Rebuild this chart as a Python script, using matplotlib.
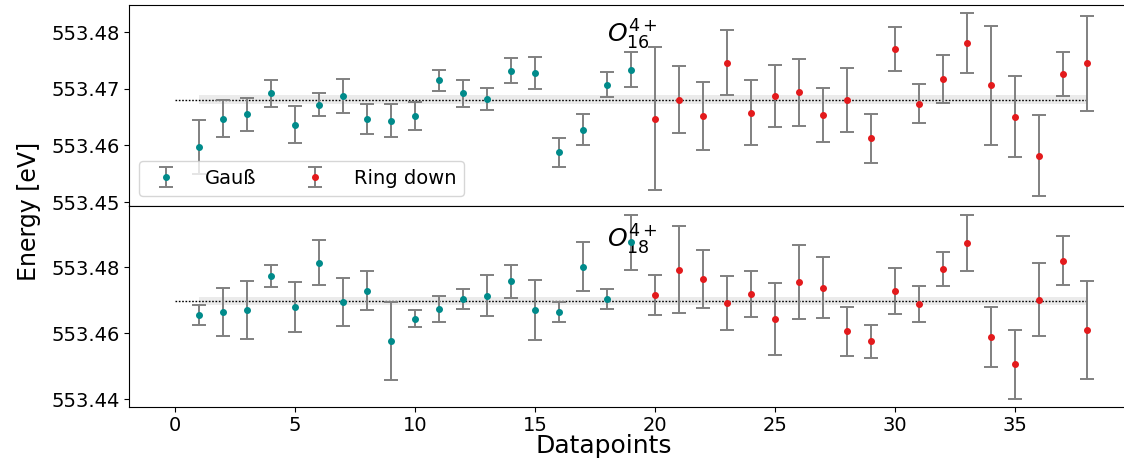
import matplotlib
matplotlib.use("Agg")
import matplotlib.pyplot as plt
import numpy as np

# Datapoint indices: 1-19 fitted with a Gaussian, 20-38 with the ring-down model
idx_gauss = list(range(1, 20))
idx_ring = list(range(20, 39))

# O 16 4+ line energies [eV] and uncertainties
o16_gauss = [553.4597, 553.4647, 553.4655, 553.4692, 553.4637, 553.4672, 553.4687,
             553.4647, 553.4644, 553.4652, 553.4715, 553.4692, 553.4682, 553.4732,
             553.4728, 553.4588, 553.4628, 553.4707, 553.4734]
o16_gauss_err = [0.00482, 0.00326, 0.00295, 0.00242, 0.00318, 0.00203, 0.00300,
                 0.00261, 0.00286, 0.00242, 0.00180, 0.00238, 0.00200, 0.00220,
                 0.00279, 0.00256, 0.00277, 0.00220, 0.00309]
o16_ring = [553.4647, 553.4681, 553.4652, 553.4746, 553.4658, 553.4687, 553.4694,
            553.4654, 553.4681, 553.4613, 553.4770, 553.4674, 553.4717, 553.4781,
            553.4706, 553.4651, 553.4582, 553.4726, 553.4745]
o16_ring_err = [0.01261, 0.00596, 0.00596, 0.00577, 0.00577, 0.00550, 0.00594,
                0.00480, 0.00564, 0.00432, 0.00388, 0.00344, 0.00427, 0.00524,
                0.01053, 0.00718, 0.00714, 0.00385, 0.00838]
o16_mean = 553.4681
o16_mean_err = 0.00074

# O 18 4+ line energies [eV] and uncertainties
o18_gauss = [553.4655, 553.4663, 553.4670, 553.4773, 553.4679, 553.4814, 553.4694,
             553.4729, 553.4577, 553.4644, 553.4674, 553.4703, 553.4713, 553.4757,
             553.4671, 553.4664, 553.4802, 553.4703, 553.4876]
o18_gauss_err = [0.00289, 0.00730, 0.00891, 0.00340, 0.00760, 0.00693, 0.00724,
                 0.00602, 0.01186, 0.00249, 0.00395, 0.00298, 0.00623, 0.00492,
                 0.00912, 0.00313, 0.00730, 0.00295, 0.00836]
o18_ring = [553.4715, 553.4792, 553.4764, 553.4691, 553.4719, 553.4643, 553.4755,
            553.4738, 553.4605, 553.4575, 553.4728, 553.4689, 553.4795, 553.4874,
            553.4589, 553.4506, 553.4702, 553.4820, 553.4609]
o18_ring_err = [0.00608, 0.01322, 0.00866, 0.00821, 0.00708, 0.01104, 0.01116,
                0.00933, 0.00745, 0.00511, 0.00693, 0.00538, 0.00511, 0.00857,
                0.00906, 0.01049, 0.01119, 0.00754, 0.01490]
o18_mean = 553.4697
o18_mean_err = 0.00116

y_ticks_top = [553.45, 553.46, 553.47, 553.48]
y_ticks_bottom = [553.44, 553.46, 553.48]
x_ticks = [0, 5, 10, 15, 20, 25, 30, 35]

TEAL = "#008b8b"
RED = "#e31a1c"
ERR = "#808080"

W, H = 1124, 466
fig = plt.figure(figsize=(W / 100, H / 100), dpi=100)

left_px, right_px = 129.4, 1132.6
top_px, mid_px, bot_px = 5.0, 205.5, 406.7
ax1 = fig.add_axes([left_px / W, 1 - mid_px / H, (right_px - left_px) / W, (mid_px - top_px) / H])
ax2 = fig.add_axes([left_px / W, 1 - bot_px / H, (right_px - left_px) / W, (bot_px - mid_px) / H],
                   sharex=ax1)

eb_kw = dict(fmt="o", ms=4.0, ecolor=ERR, elinewidth=1.4, capsize=5, capthick=1.4, zorder=3)


def panel(ax, g, ge, r, re, mean, mean_err):
    hg = ax.errorbar(idx_gauss, g, yerr=ge, color=TEAL, label="Gauß", **eb_kw)
    hr = ax.errorbar(idx_ring, r, yerr=re, color=RED, label="Ring down", **eb_kw)
    allx = idx_gauss + idx_ring
    ax.fill_between([allx[0], allx[-1]], mean - mean_err, mean + mean_err,
                    color="#d9d9d9", alpha=0.5, lw=0, zorder=1)
    ax.plot([0, allx[-1]], [mean, mean], ls=(0, (1.2, 1.2)), color="black", lw=1.0, zorder=2)
    return hg, hr


hg, hr = panel(ax1, o16_gauss, o16_gauss_err, o16_ring, o16_ring_err, o16_mean, o16_mean_err)
panel(ax2, o18_gauss, o18_gauss_err, o18_ring, o18_ring_err, o18_mean, o18_mean_err)

ax1.set_xlim(-1.9, 39.9)
ax1.set_ylim(553.4494, 553.4848)
ax2.set_ylim(553.4377, 553.4987)
ax1.set_yticks(y_ticks_top)
ax2.set_yticks(y_ticks_bottom)
ax2.set_xticks(x_ticks)
ax1.tick_params(axis="x", which="both", bottom=False, labelbottom=False)
for ax in (ax1, ax2):
    ax.ticklabel_format(axis="y", useOffset=False, style="plain")
    ax.tick_params(axis="both", labelsize=14)

ax1.text(18, 553.4795, r"$O_{16}^{4+}$", fontsize=18, ha="left", va="center")
ax2.text(18, 553.4882, r"$O_{18}^{4+}$", fontsize=18, ha="left", va="center")

ax1.legend(handles=[hg, hr], loc="lower left", ncol=2, fontsize=14,
           bbox_to_anchor=(0.0, 0.0), columnspacing=2.0, handletextpad=1.0)

fig.text(604 / W, 1 - 446 / H, "Datapoints", fontsize=18, ha="center", va="center")
fig.text(29 / W, 1 - 211 / H, "Energy [eV]", fontsize=17, rotation=90, ha="center", va="center")

fig.savefig("out.png", dpi=100)
